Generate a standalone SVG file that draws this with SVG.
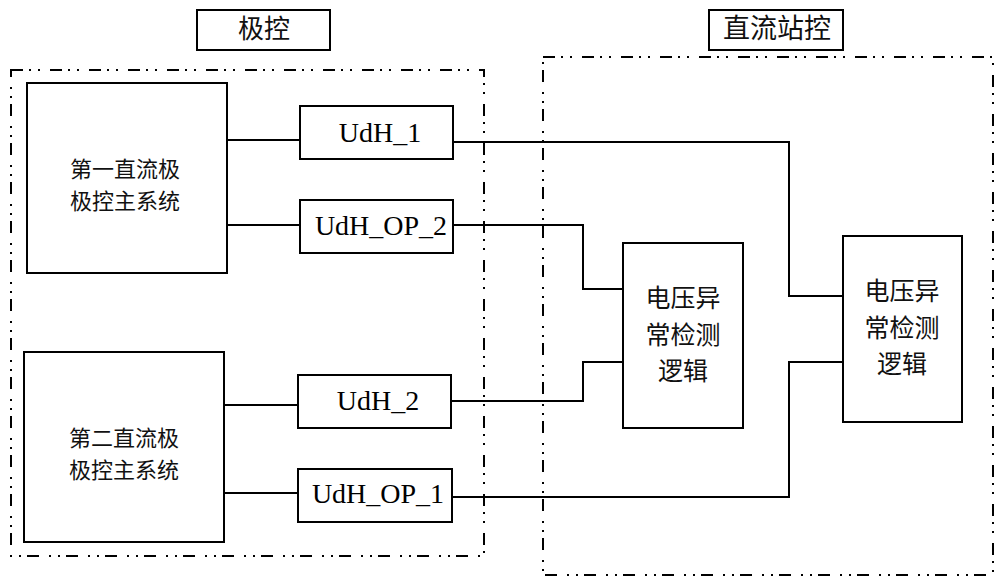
<svg xmlns="http://www.w3.org/2000/svg" width="1000" height="585" viewBox="0 0 1000 585">
<style>
.box{fill:#fff;stroke:#000;stroke-width:2}
.grp{fill:none;stroke:#000;stroke-width:2;stroke-dasharray:12 6 2 7 2 10}
.wire{fill:none;stroke:#000;stroke-width:2}
.cn{font-family:"Noto Sans CJK SC","Noto Sans CJK TC",sans-serif;fill:#111;text-anchor:middle}
.lat{font-family:"Liberation Serif","Times New Roman",serif;font-size:28px;fill:#000;text-anchor:middle}
</style>
<rect width="1000" height="585" fill="#fff"/>
<g id="region-pole">
<rect class="grp" x="11" y="70" width="473" height="486"/>
</g>
<g id="region-station">
<rect class="grp" x="543" y="57" width="450" height="518"/>
</g>
<g id="label-pole">
<rect class="box" x="197" y="10" width="133" height="40"/>
<text class="cn" x="264" y="38" font-size="26">极控</text>
</g>
<g id="label-station">
<rect class="box" x="709" y="10" width="134" height="40"/>
<text class="cn" x="777" y="38" font-size="27">直流站控</text>
</g>
<g id="connectors">
<polyline class="wire" points="227,140 300,140"/>
<polyline class="wire" points="227,225 300,225"/>
<polyline class="wire" points="224,405 298,405"/>
<polyline class="wire" points="224,493 298,493"/>
<polyline class="wire" points="453,142 789,142 789,296 843,296"/>
<polyline class="wire" points="453,225 583,225 583,289 623,289"/>
<polyline class="wire" points="451,401 583,401 583,362 623,362"/>
<polyline class="wire" points="452,497 789,497 789,362 843,362"/>
</g>
<g id="pole1-master">
<rect class="box" x="27" y="83" width="200" height="190"/>
<text class="cn" font-size="22"><tspan x="125" y="177">第一直流极</tspan><tspan x="125" y="209">极控主系统</tspan></text>
</g>
<g id="pole2-master">
<rect class="box" x="24" y="352" width="200" height="190"/>
<text class="cn" font-size="22"><tspan x="124" y="446">第二直流极</tspan><tspan x="124" y="478">极控主系统</tspan></text>
</g>
<g id="udh1">
<rect class="box" x="300" y="106" width="153" height="53"/>
<text class="lat" x="380" y="142">UdH_1</text>
</g>
<g id="udh-op2">
<rect class="box" x="300" y="200" width="153" height="53"/>
<text class="lat" x="381" y="235">UdH_OP_2</text>
</g>
<g id="udh2">
<rect class="box" x="298" y="375" width="153" height="53"/>
<text class="lat" x="378" y="410">UdH_2</text>
</g>
<g id="udh-op1">
<rect class="box" x="298" y="469" width="154" height="53"/>
<text class="lat" x="378" y="503">UdH_OP_1</text>
</g>
<g id="detect-1">
<rect class="box" x="623" y="243" width="120" height="185"/>
<text class="cn" font-size="25"><tspan x="683" y="307">电压异</tspan><tspan x="683" y="343.5">常检测</tspan><tspan x="683" y="380">逻辑</tspan></text>
</g>
<g id="detect-2">
<rect class="box" x="843" y="236" width="119" height="186"/>
<text class="cn" font-size="25"><tspan x="902" y="300">电压异</tspan><tspan x="902" y="336.5">常检测</tspan><tspan x="902" y="373">逻辑</tspan></text>
</g>
</svg>
